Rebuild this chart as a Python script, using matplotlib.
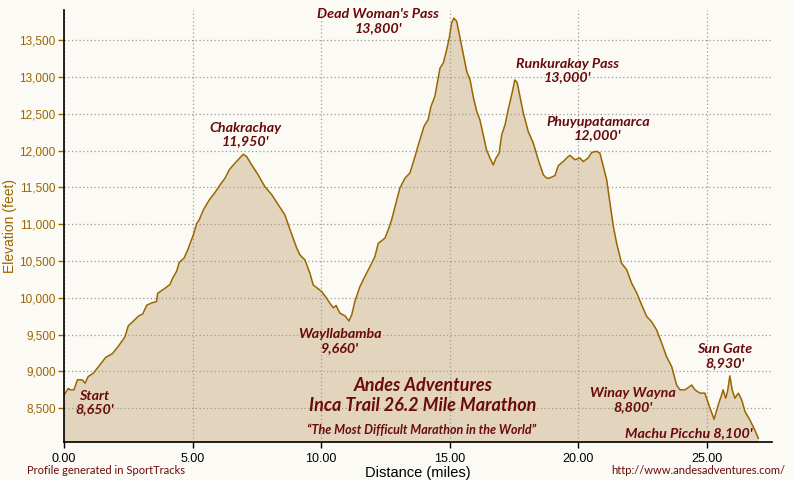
import matplotlib
matplotlib.use("Agg")
import matplotlib.pyplot as plt
from matplotlib.ticker import FuncFormatter

# profile
distance = [0.00, 0.04, 0.17, 0.23, 0.39, 0.52, 0.71, 0.82, 0.94, 1.14,
            1.40, 1.62, 1.88, 2.11, 2.37, 2.50, 2.69, 2.89, 3.06, 3.22,
            3.41, 3.60, 3.64, 3.89, 4.12, 4.23, 4.38, 4.48, 4.67, 4.81,
            5.03, 5.16, 5.26, 5.42, 5.65, 5.87, 6.07, 6.26, 6.43, 6.65,
            6.84, 6.97, 7.10, 7.30, 7.55, 7.81, 8.08, 8.33, 8.59, 8.79,
            9.05, 9.18, 9.37, 9.56, 9.69, 10.02, 10.21, 10.34, 10.47, 10.58,
            10.73, 10.93, 11.08, 11.19, 11.31, 11.51, 11.70, 11.90, 12.09, 12.22,
            12.48, 12.61, 12.74, 12.94, 13.06, 13.26, 13.45, 13.65, 13.78, 14.00,
            14.16, 14.27, 14.42, 14.62, 14.75, 14.88, 14.98, 15.07, 15.16, 15.27,
            15.40, 15.52, 15.66, 15.79, 15.91, 16.05, 16.17, 16.30, 16.43, 16.56,
            16.69, 16.80, 16.92, 17.02, 17.15, 17.27, 17.41, 17.53, 17.62, 17.73,
            17.86, 18.05, 18.25, 18.44, 18.64, 18.77, 18.87, 19.09, 19.22, 19.41,
            19.61, 19.67, 19.87, 20.06, 20.19, 20.38, 20.52, 20.71, 20.84, 20.97,
            21.10, 21.23, 21.36, 21.49, 21.68, 21.88, 22.07, 22.27, 22.46, 22.66,
            22.85, 23.04, 23.24, 23.43, 23.63, 23.82, 23.95, 24.15, 24.41, 24.53,
            24.73, 24.92, 25.12, 25.28, 25.44, 25.57, 25.63, 25.73, 25.80, 25.89,
            25.98, 26.09, 26.22, 26.35, 26.48, 26.67, 26.86, 27.00]
elevation = [8680, 8700, 8770, 8750, 8750, 8885, 8885, 8840, 8930, 8975,
             9090, 9190, 9240, 9340, 9470, 9620, 9680, 9750, 9780, 9900,
             9930, 9950, 10060, 10120, 10180, 10270, 10360, 10480, 10540, 10650,
             10855, 11010, 11060, 11195, 11330, 11430, 11535, 11625, 11740, 11830,
             11900, 11950, 11920, 11805, 11670, 11510, 11400, 11265, 11125, 10925,
             10675, 10580, 10515, 10335, 10175, 10085, 9995, 9925, 9865, 9895,
             9790, 9755, 9685, 9770, 9950, 10155, 10290, 10425, 10560, 10740,
             10810, 10925, 11060, 11330, 11490, 11625, 11695, 11920, 12080, 12330,
             12420, 12600, 12735, 13120, 13190, 13370, 13530, 13730, 13800, 13755,
             13530, 13325, 13075, 12960, 12735, 12530, 12420, 12215, 12010, 11900,
             11805, 11900, 11965, 12215, 12350, 12555, 12760, 12960, 12925, 12735,
             12510, 12260, 12100, 11875, 11670, 11625, 11625, 11660, 11795, 11850,
             11920, 11935, 11875, 11900, 11850, 11900, 11975, 11990, 11965, 11785,
             11605, 11285, 10970, 10740, 10470, 10380, 10200, 10065, 9905, 9745,
             9675, 9565, 9385, 9200, 9065, 8815, 8750, 8750, 8815, 8750,
             8705, 8705, 8500, 8350, 8545, 8680, 8750, 8635, 8725, 8940,
             8750, 8635, 8705, 8615, 8455, 8340, 8205, 8090]

x_ticks = [0, 5, 10, 15, 20, 25]
y_ticks = [8500, 9000, 9500, 10000, 10500, 11000, 11500, 12000, 12500, 13000, 13500]

# (name, elevation label, mile, feet) for the place labels
places = [("Start", "8,650'", 1.19, 8580),
          ("Chakrachay", "11,950'", 7.04, 12220),
          ("Wayllabamba", "9,660'", 10.73, 9410),
          ("Dead Woman's Pass", "13,800'", 12.21, 13760),
          ("Runkurakay Pass", "13,000'", 19.56, 13090),
          ("Phuyupatamarca", "12,000'", 20.76, 12300),
          ("Winay Wayna", "8,800'", 22.12, 8610),
          ("Sun Gate", "8,930'", 25.70, 9210)]

BG = "#fbfaf5"
FILL = "#e3d4bd"
LINE = "#996600"
MAROON = "#6a0a0a"
LABEL_FONT = ["Lato", "DejaVu Sans"]

plt.rcParams["font.family"] = ["Liberation Sans", "DejaVu Sans"]

fig = plt.figure(figsize=(7.94, 4.8), dpi=100, facecolor=BG)
ax = fig.add_axes([0.0806, 0.0798, 0.8917, 0.8994])
ax.set_facecolor(BG)

ax.fill_between(distance, elevation, 8000, color=FILL, lw=0, zorder=1)
ax.plot(distance, elevation, color=LINE, lw=1.1, zorder=3)

ax.set_xlim(0, 27.53)
ax.set_ylim(8045, 13910)
ax.set_xticks(x_ticks)
ax.set_yticks(y_ticks)
ax.xaxis.set_major_formatter(FuncFormatter(lambda v, p: "%.2f" % v))
ax.yaxis.set_major_formatter(FuncFormatter(lambda v, p: "{:,.0f}".format(v)))
ax.grid(True, color="#a09a90", ls=(0, (1, 2)), lw=0.9, zorder=2)
ax.set_axisbelow(False)

for s in ["top", "right"]:
    ax.spines[s].set_visible(False)
for s in ["left", "bottom"]:
    ax.spines[s].set_color("black")
    ax.spines[s].set_linewidth(1.2)
    ax.spines[s].set_zorder(5)

ax.tick_params(axis="y", colors=LINE, labelsize=8.5, length=4, width=1, pad=2)
ax.tick_params(axis="x", colors="black", labelsize=9, length=4, width=1, pad=4)
ax.set_ylabel("Elevation (feet)", color=LINE, fontsize=10, va="center")
ax.yaxis.set_label_coords(-0.0756, 0.5)
ax.set_xlabel("Distance (miles)", color="black", fontsize=10.5, labelpad=1)

for name, feet, mx, my in places:
    ax.text(mx, my, name + "\n" + feet, ha="center", va="center",
            color=MAROON, fontsize=10.3, fontweight="bold", fontstyle="italic",
            family=LABEL_FONT, linespacing=1.15, zorder=6)
ax.text(24.28, 8163, "Machu Picchu 8,100'", ha="center", va="center",
        color=MAROON, fontsize=10.3, fontweight="bold", fontstyle="italic",
        family=LABEL_FONT, zorder=6)

ax.text(13.96, 8803, "Andes Adventures", ha="center", va="center",
        color=MAROON, fontsize=13, fontweight="bold", fontstyle="italic",
        family=LABEL_FONT, zorder=6)
ax.text(13.96, 8531, "Inca Trail 26.2 Mile Marathon", ha="center", va="center",
        color=MAROON, fontsize=13, fontweight="bold", fontstyle="italic",
        family=LABEL_FONT, zorder=6)
ax.text(13.9, 8205, "\u201cThe Most Difficult Marathon in the World\u201d",
        ha="center", va="center", color=MAROON, fontsize=9,
        fontweight="bold", fontstyle="italic", family=LABEL_FONT, zorder=6)

fig.text(27 / 794, 1 - 471 / 480, "Profile generated in SportTracks",
         ha="left", va="center", color=MAROON, fontsize=8, family=LABEL_FONT)
fig.text(785 / 794, 1 - 471 / 480, "http://www.andesadventures.com/",
         ha="right", va="center", color=MAROON, fontsize=8, family=LABEL_FONT)

fig.savefig("out.png", dpi=100, facecolor=BG)
